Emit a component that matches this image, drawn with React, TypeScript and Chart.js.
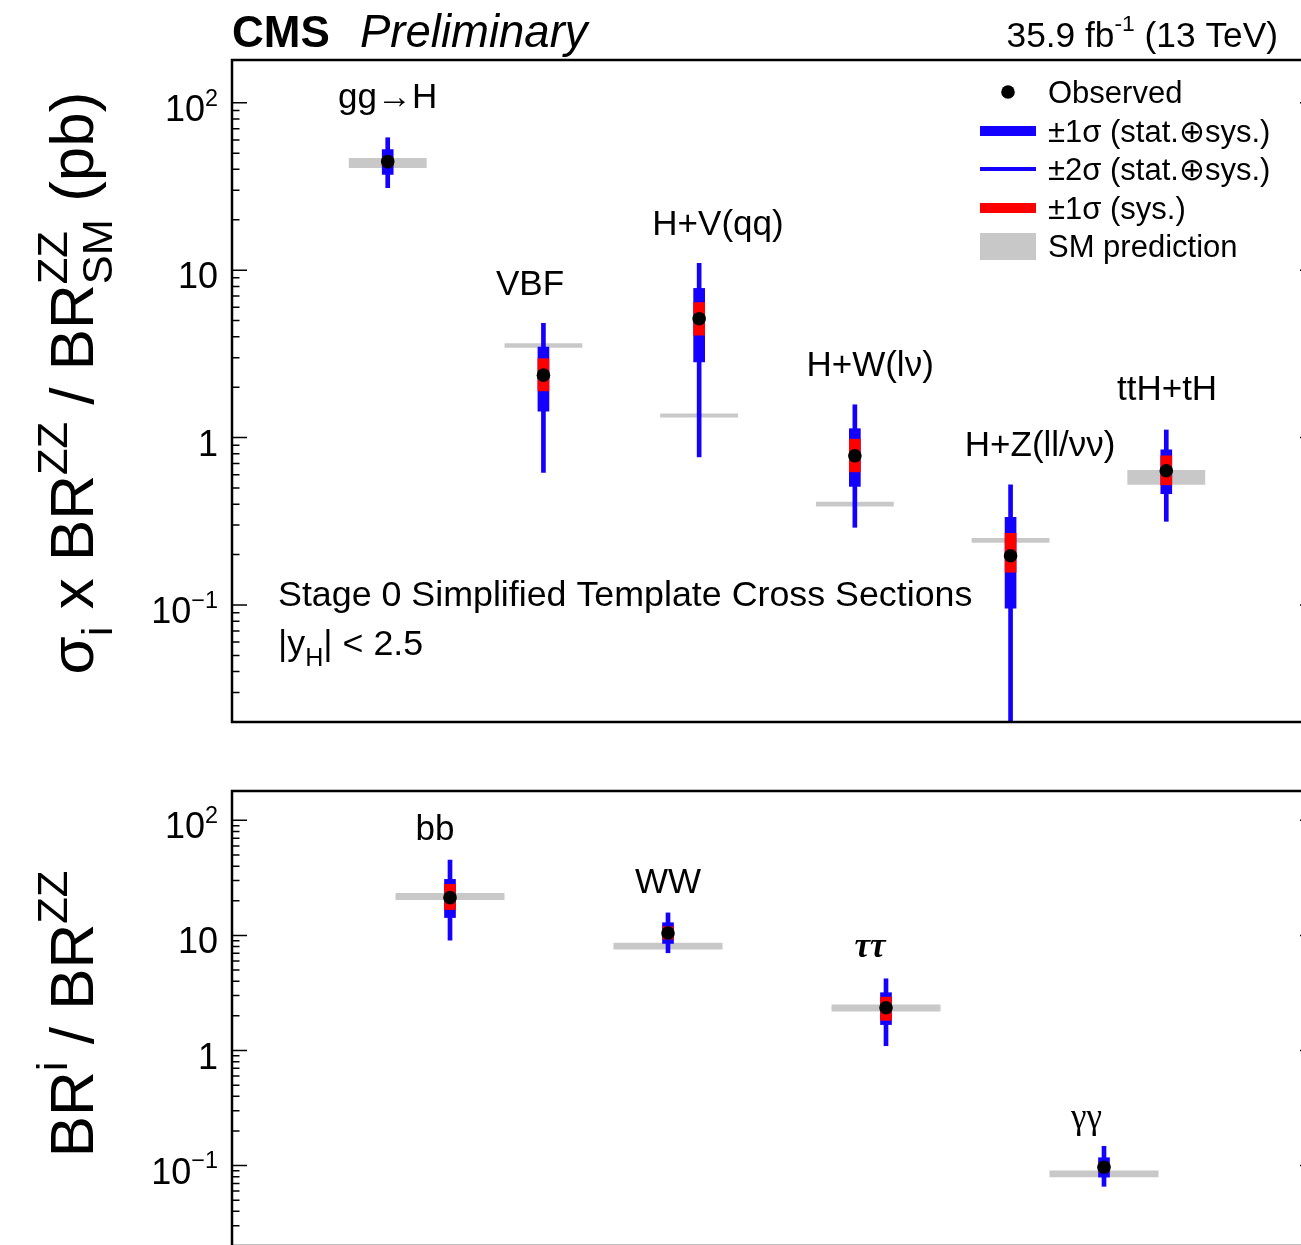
import React, { useEffect, useRef } from 'react';
import { Chart, registerables } from 'chart.js';

Chart.register(...registerables);

// ---------------- Upper panel: production modes ----------------
const prodLabels = ['gg→H', 'VBF', 'H+V(qq)', 'H+W(lν)', 'H+Z(ll/νν)', 'ttH+tH'];
const prodX = [1, 2, 3, 4, 5, 6];
const prodObserved = [44.5, 2.36, 5.13, 0.778, 0.197, 0.633];
const prodSysLo = [42.0, 1.9, 4.09, 0.624, 0.157, 0.522];
const prodSysHi = [47.0, 2.96, 6.4, 0.978, 0.268, 0.778];
const prodOneSigmaLo = [37.3, 1.44, 2.83, 0.511, 0.0957, 0.462];
const prodOneSigmaHi = [52.5, 3.47, 7.78, 1.13, 0.334, 0.845];
const prodTwoSigmaLo = [31.1, 0.619, 0.767, 0.291, 0.01, 0.316];
const prodTwoSigmaHi = [61.8, 4.81, 11.0, 1.57, 0.522, 1.11];
const prodSmLo = [40.8, 3.44, 1.32, 0.388, 0.235, 0.522];
const prodSmHi = [46.8, 3.66, 1.39, 0.414, 0.251, 0.64];

// ---------------- Lower panel: decay modes ----------------
const decayLabels = ['bb', 'WW', 'ττ', 'γγ'];
const decayX = [1, 2, 3, 4];
const decayObserved = [21.3, 10.5, 2.35, 0.0966];
const decaySysLo = [16.8, 9.3, 1.83, 0.089];
const decaySysHi = [27.8, 11.9, 2.91, 0.105];
const decayOneSigmaLo = [14.3, 8.52, 1.68, 0.0794];
const decayOneSigmaHi = [30.7, 12.9, 3.18, 0.117];
const decayTwoSigmaLo = [9.1, 7.07, 1.1, 0.066];
const decayTwoSigmaHi = [45.2, 15.7, 4.2, 0.147];
const decaySmLo = [20.3, 7.55, 2.18, 0.0791];
const decaySmHi = [23.4, 8.65, 2.51, 0.0906];

// ---------------- Axes ----------------
const yMin = 0.02;
const yMax = 180;
const prodXMax = 7;
const decayXMax = 5;
const majorTickValues = [0.1, 1, 10, 100];
const majorTickBase = ['10', '1', '10', '10'];
const majorTickExp = ['−1', '', '', '2'];

// ---------------- Legend ----------------
const legendLabels = ['Observed', '±1σ (stat.⊕sys.)', '±2σ (stat.⊕sys.)', '±1σ (sys.)', 'SM prediction'];

// ---------------- Layout (label anchors in data coordinates) ----------------
const prodLabelAnchorX = [1.0, 1.914, 3.121, 4.098, 5.19, 6.005];
const prodLabelAnchorY = [93.4, 7.1, 16.3, 2.34, 0.775, 1.68];
const decayLabelAnchorX = [0.931, 2.0, 2.927, 3.92];
const decayLabelAnchorY = [67.8, 23.5, 6.5, 0.211];

const SANS = '"Liberation Sans", Arial, Helvetica, sans-serif';
const SERIF = '"Liberation Serif", "DejaVu Serif", serif';
const BLUE = '#1400ff';
const RED = '#ff0000';
const GRAY = '#c8c8c8';

type Seg = { t: string; s?: number; dy?: number; style?: string; family?: string; overlap?: boolean };

const fontOf = (sg: Seg, size: number) =>
  `${sg.style ?? ''} ${(size * (sg.s ?? 1)).toFixed(1)}px ${sg.family ?? SANS}`.trim();

function drawRich(ctx: CanvasRenderingContext2D, segs: Seg[], x: number, y: number, size: number, align: 'left' | 'right' | 'center') {
  const items: { sg: Seg; x: number }[] = [];
  let cx = 0;
  let i = 0;
  while (i < segs.length) {
    const sg = segs[i];
    ctx.font = fontOf(sg, size);
    const w = ctx.measureText(sg.t).width;
    if (sg.overlap && i + 1 < segs.length) {
      const n = segs[i + 1];
      ctx.font = fontOf(n, size);
      const w2 = ctx.measureText(n.t).width;
      items.push({ sg, x: cx }, { sg: n, x: cx });
      cx += Math.max(w, w2);
      i += 2;
    } else {
      items.push({ sg, x: cx });
      cx += w;
      i += 1;
    }
  }
  const x0 = align === 'right' ? x - cx : align === 'center' ? x - cx / 2 : x;
  ctx.textAlign = 'left';
  ctx.textBaseline = 'alphabetic';
  for (const it of items) {
    ctx.font = fontOf(it.sg, size);
    ctx.fillText(it.sg.t, x0 + it.x, y + (it.sg.dy ?? 0) * size);
  }
}

function drawFrameTicks(chart: any) {
  const { ctx, chartArea } = chart;
  const { left, right, top, bottom } = chartArea;
  const ys = chart.scales.y;
  ctx.save();
  ctx.strokeStyle = '#000';
  ctx.fillStyle = '#000';
  ctx.lineWidth = 1.5;
  for (let e = -2; e <= 2; e++) {
    for (let m = 1; m <= 9; m++) {
      const v = m * Math.pow(10, e);
      if (v < yMin || v > yMax) continue;
      const py = ys.getPixelForValue(v);
      const major = m === 1;
      ctx.beginPath();
      ctx.moveTo(left, py);
      ctx.lineTo(left + (major ? 15 : 7.5), py);
      ctx.moveTo(right, py);
      ctx.lineTo(right - (major ? 22 : 8), py);
      ctx.stroke();
    }
  }
  ctx.lineWidth = 2.5;
  ctx.strokeRect(left, top, right - left, bottom - top);
  majorTickValues.forEach((v, i) => {
    const py = ys.getPixelForValue(v);
    const segs: Seg[] = [{ t: majorTickBase[i] }];
    if (majorTickExp[i]) segs.push({ t: majorTickExp[i], s: 0.65, dy: -0.42 });
    drawRich(ctx, segs, left - 14, py + 18, 36, 'right');
  });
  ctx.restore();
}

function drawCategoryLabels(chart: any, labels: string[], ax: number[], ay: number[], families: (string | undefined)[], styles: (string | undefined)[]) {
  const { ctx } = chart;
  const xs = chart.scales.x;
  const ys = chart.scales.y;
  ctx.save();
  ctx.fillStyle = '#000';
  labels.forEach((lab, i) => {
    drawRich(ctx, [{ t: lab, family: families[i], style: styles[i] }], xs.getPixelForValue(ax[i]), ys.getPixelForValue(ay[i]), 35, 'center');
  });
  ctx.restore();
}

const topDecor = {
  id: 'topDecor',
  afterDraw(chart: any) {
    const { ctx } = chart;
    drawFrameTicks(chart);
    drawCategoryLabels(chart, prodLabels, prodLabelAnchorX, prodLabelAnchorY, prodLabels.map(() => undefined), prodLabels.map(() => undefined));
    ctx.save();
    ctx.fillStyle = '#000';
    // header
    drawRich(ctx, [{ t: 'CMS', style: 'bold' }], 232, 47, 44, 'left');
    drawRich(ctx, [{ t: 'Preliminary', style: 'italic' }], 360, 47, 45.5, 'left');
    drawRich(ctx, [{ t: '35.9 fb' }, { t: '-1', s: 0.65, dy: -0.45 }, { t: ' (13 TeV)' }], 1278, 47, 35.3, 'right');
    // y title
    ctx.save();
    ctx.translate(93, 383);
    ctx.rotate(-Math.PI / 2);
    drawRich(ctx, [
      { t: 'σ' },
      { t: 'i', s: 0.7, dy: 0.3 },
      { t: ' x BR' },
      { t: 'ZZ', s: 0.7, dy: -0.42 },
      { t: ' / BR' },
      { t: 'ZZ', s: 0.7, dy: -0.42, overlap: true },
      { t: 'SM', s: 0.7, dy: 0.3 },
      { t: ' (pb)' },
    ], 0, 0, 62, 'center');
    ctx.restore();
    // annotation
    drawRich(ctx, [{ t: 'Stage 0 Simplified Template Cross Sections' }], 278, 606, 35.8, 'left');
    drawRich(ctx, [{ t: '|y' }, { t: 'H', s: 0.7, dy: 0.3 }, { t: '| < 2.5' }], 278, 655, 35.8, 'left');
    // legend
    const rows = [92, 131, 169, 208, 246];
    const gx0 = 980;
    const gx1 = 1036;
    ctx.beginPath();
    ctx.arc((gx0 + gx1) / 2, rows[0], 6.8, 0, Math.PI * 2);
    ctx.fill();
    ctx.fillStyle = BLUE;
    ctx.fillRect(gx0, rows[1] - 5, gx1 - gx0, 10);
    ctx.fillRect(gx0, rows[2] - 2, gx1 - gx0, 4);
    ctx.fillStyle = RED;
    ctx.fillRect(gx0, rows[3] - 5, gx1 - gx0, 10);
    ctx.fillStyle = GRAY;
    ctx.fillRect(gx0, rows[4] - 13, gx1 - gx0, 27);
    ctx.fillStyle = '#000';
    legendLabels.forEach((lab, i) => drawRich(ctx, [{ t: lab }], 1048, rows[i] + 11, 31, 'left'));
    ctx.restore();
  },
};

const bottomDecor = {
  id: 'bottomDecor',
  afterDraw(chart: any) {
    const { ctx } = chart;
    drawFrameTicks(chart);
    drawCategoryLabels(chart, decayLabels, decayLabelAnchorX, decayLabelAnchorY,
      [undefined, undefined, SERIF, SERIF], [undefined, undefined, 'italic bold', undefined]);
    ctx.save();
    ctx.fillStyle = '#000';
    ctx.translate(93, 244);
    ctx.rotate(-Math.PI / 2);
    drawRich(ctx, [
      { t: 'BR' },
      { t: 'i', s: 0.7, dy: -0.42 },
      { t: ' / BR' },
      { t: 'ZZ', s: 0.7, dy: -0.42 },
    ], 0, 0, 62, 'center');
    ctx.restore();
  },
};

function makeConfig(
  xs: number[], obs: number[], sysLo: number[], sysHi: number[], oneLo: number[], oneHi: number[],
  twoLo: number[], twoHi: number[], smLo: number[], smHi: number[], xMax: number,
  padding: { left: number; top: number; right: number; bottom: number }, plugin: any,
): any {
  const pair = (lo: number[], hi: number[]) => xs.map((x, i) => ({ x, y: [lo[i], hi[i]] }));
  return {
    type: 'bar',
    data: {
      datasets: [
        {
          type: 'scatter', label: legendLabels[0], data: xs.map((x, i) => ({ x, y: obs[i] })),
          pointRadius: 6.8, pointHoverRadius: 6.8, backgroundColor: '#000', borderWidth: 0, order: 0, clip: 0,
        },
        { label: legendLabels[3], data: pair(sysLo, sysHi), backgroundColor: RED, barThickness: 11, grouped: false, order: 1, clip: 0 },
        { label: legendLabels[1], data: pair(oneLo, oneHi), backgroundColor: BLUE, barThickness: 11, grouped: false, order: 2, clip: 0 },
        { label: legendLabels[2], data: pair(twoLo, twoHi), backgroundColor: BLUE, barThickness: 4, grouped: false, order: 3, clip: 0 },
        {
          label: legendLabels[4], data: pair(smLo, smHi), backgroundColor: GRAY, categoryPercentage: 0.5, barPercentage: 1,
          grouped: false, order: 4, clip: 0,
        },
      ],
    },
    options: {
      responsive: false,
      animation: false,
      devicePixelRatio: 1,
      events: [],
      layout: { padding },
      plugins: { legend: { display: false }, tooltip: { enabled: false } },
      scales: {
        x: { type: 'linear', min: 0, max: xMax, display: false, offset: false, ticks: { stepSize: 1 } },
        y: {
          type: 'logarithmic', min: yMin, max: yMax, position: 'left',
          ticks: { display: false }, grid: { display: false }, border: { display: false },
          afterFit: (s: any) => { s.width = 232; },
        },
      },
    },
    plugins: [plugin],
  };
}

export default function App() {
  const topRef = useRef<HTMLCanvasElement>(null);
  const botRef = useRef<HTMLCanvasElement>(null);
  useEffect(() => {
    const c1 = new Chart(topRef.current as HTMLCanvasElement, makeConfig(
      prodX, prodObserved, prodSysLo, prodSysHi, prodOneSigmaLo, prodOneSigmaHi, prodTwoSigmaLo, prodTwoSigmaHi,
      prodSmLo, prodSmHi, prodXMax, { left: 0, top: 60, right: 18, bottom: 38 }, topDecor));
    const c2 = new Chart(botRef.current as HTMLCanvasElement, makeConfig(
      decayX, decayObserved, decaySysLo, decaySysHi, decayOneSigmaLo, decayOneSigmaHi, decayTwoSigmaLo, decayTwoSigmaHi,
      decaySmLo, decaySmHi, decayXMax, { left: 0, top: 21, right: 18, bottom: 24 }, bottomDecor));
    return () => { c1.destroy(); c2.destroy(); };
  }, []);
  return (
    <div style={{ position: 'fixed', left: 0, top: 0, width: 1301, height: 1245, overflow: 'hidden', background: '#fff' }}>
      <canvas ref={topRef} width={1340} height={760} style={{ position: 'absolute', left: 0, top: 0, width: 1340, height: 760 }} />
      <canvas ref={botRef} width={1340} height={500} style={{ position: 'absolute', left: 0, top: 770, width: 1340, height: 500 }} />
    </div>
  );
}
